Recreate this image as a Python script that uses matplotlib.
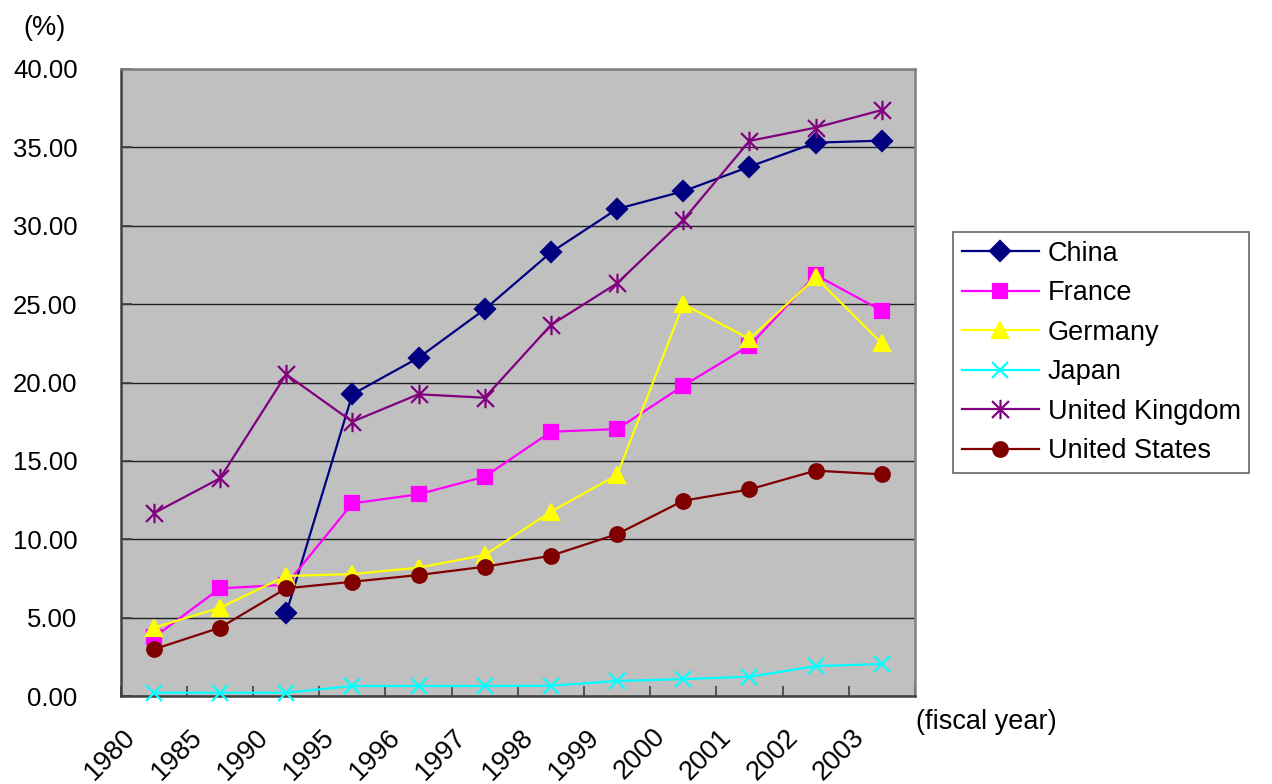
import matplotlib
matplotlib.use("Agg")
import matplotlib.pyplot as plt
import matplotlib.transforms as mtransforms
import numpy as np
from matplotlib.path import Path

years = ["1980", "1985", "1990", "1995", "1996", "1997", "1998", "1999", "2000", "2001", "2002", "2003"]

china = [np.nan, np.nan, 5.27, 19.25, 21.58, 24.67, 28.3, 31.07, 32.2, 33.77, 35.3, 35.43]
france = [3.74, 6.87, 7.1, 12.29, 12.87, 13.99, 16.86, 17.03, 19.8, 22.35, 26.86, 24.58]
germany = [4.36, 5.63, 7.66, 7.78, 8.19, 9.0, 11.76, 14.1, 25.0, 22.78, 26.7, 22.5]
japan = [0.21, 0.21, 0.21, 0.64, 0.64, 0.64, 0.66, 0.96, 1.08, 1.23, 1.91, 2.04]
uk = [11.66, 13.89, 20.52, 17.5, 19.25, 19.03, 23.67, 26.33, 30.37, 35.41, 36.26, 37.38]
usa = [2.98, 4.36, 6.87, 7.29, 7.72, 8.25, 8.95, 10.33, 12.46, 13.18, 14.38, 14.14]

plt.rcParams['font.family'] = ['Liberation Sans', 'DejaVu Sans']
fs = 19.5
tick_fs = 18.5

# x plus vertical bar, like the Excel star marker
star = Path([(-1, -1), (1, 1), (-1, 1), (1, -1), (0, -1.15), (0, 1.15)],
            [Path.MOVETO, Path.LINETO, Path.MOVETO, Path.LINETO, Path.MOVETO, Path.LINETO])

series = [
    ("China", china, "#000080", "D", 10),
    ("France", france, "#FF00FF", "s", 10),
    ("Germany", germany, "#FFFF00", "^", 12),
    ("Japan", japan, "#00FFFF", "x", 12),
    ("United Kingdom", uk, "#800080", star, 14),
    ("United States", usa, "#800000", "o", 10.5),
]

fig = plt.figure(figsize=(12.72, 7.84), dpi=100)
ax = fig.add_axes([0.0949, 0.1122, 0.6244, 0.7998])
ax.set_facecolor("#C0C0C0")

x = np.arange(len(years))
for name, vals, col, mk, ms in series:
    ax.plot(x, vals, color=col, lw=1.6, marker=mk, markersize=ms,
            markerfacecolor=col, markeredgecolor=col, markeredgewidth=1.6,
            label=name, clip_on=False, zorder=3)

ax.set_xlim(-0.5, len(years) - 0.5)
ax.set_ylim(0, 40)
ax.set_yticks(np.arange(0, 41, 5))
ax.set_yticklabels([f"{v:.2f}" for v in np.arange(0, 41, 5)], fontsize=tick_fs)
ax.yaxis.grid(True, color="#202020", lw=1.0)
ax.set_axisbelow(True)
ax.tick_params(axis="y", direction="in", length=8, width=1.2, pad=31, color="#404040")

# ticks on category boundaries, labels on centers
ax.set_xticks(np.arange(-0.5, len(years), 1.0))
ax.set_xticklabels([])
ax.tick_params(axis="x", which="major", direction="in", length=7, width=1.2, color="#404040")
ax.set_xticks(x, minor=True)
ax.set_xticklabels(years, minor=True, fontsize=fs, rotation=45, ha="right",
                   va="top", rotation_mode="anchor")
ax.tick_params(axis="x", which="minor", length=0, pad=20)
offset = mtransforms.ScaledTranslation(-31 / 100, 0, fig.dpi_scale_trans)
for lab in ax.get_xticklabels(minor=True):
    lab.set_transform(lab.get_transform() + offset)

for side in ["left", "bottom"]:
    ax.spines[side].set_color("#404040")
    ax.spines[side].set_linewidth(1.8)
for side in ["top", "right"]:
    ax.spines[side].set_color("#808080")
    ax.spines[side].set_linewidth(1.8)

fig.text(23 / 1272, 1 - 28 / 784, "(%)", fontsize=fs, ha="left", va="center")
fig.text(916 / 1272, 1 - 722 / 784, "(fiscal year)", fontsize=fs, ha="left", va="center")

leg = ax.legend(loc="upper left", bbox_to_anchor=(953 / 1272, 1 - 232 / 784),
                bbox_transform=fig.transFigure, fontsize=fs, frameon=True,
                fancybox=False, handlelength=2.85, handletextpad=0.33,
                labelspacing=0.5, borderpad=0.32, borderaxespad=0,
                markerscale=1.0)
leg.get_frame().set_edgecolor("#404040")
leg.get_frame().set_linewidth(1.2)

fig.savefig("out.png", dpi=100)
